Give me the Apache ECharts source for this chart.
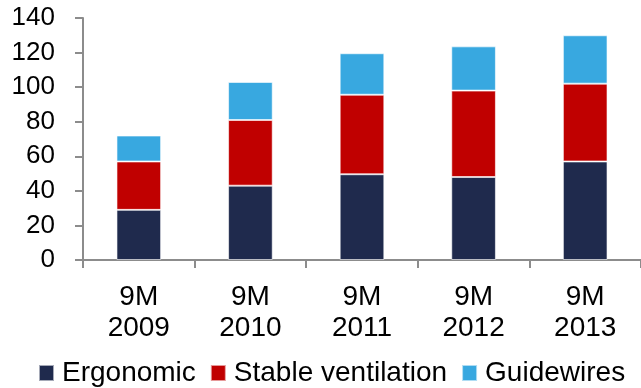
<!DOCTYPE html>
<html>
<head>
<meta charset="utf-8">
<script src="https://cdn.jsdelivr.net/npm/echarts@6/dist/echarts.min.js"></script>
<style>
  html, body { margin: 0; padding: 0; background: #fff; }
  #chart { width: 641px; height: 388px; }
</style>
</head>
<body>
<div id="chart"></div>
<script>
// Revenue split by segment, first nine months of each year
const categories = ['9M\n2009', '9M\n2010', '9M\n2011', '9M\n2012', '9M\n2013'];
const ergonomic = [29, 43, 49.6, 48, 57];
const stableVentilation = [28, 38, 46, 50, 45];
const guidewires = [15, 22, 24, 25.6, 28];
const yTicks = { min: 0, max: 140, interval: 20 };

const font = '"Liberation Sans", Arial, sans-serif';
const axisGray = '#8c8c8c';

const chart = echarts.init(document.getElementById('chart'), null, { renderer: 'canvas' });

function barSeries(name, data, color) {
  return {
    name: name,
    type: 'bar',
    stack: 'total',
    data: data,
    barWidth: '40%',
    itemStyle: { color: color, borderColor: 'rgba(255,255,255,0.6)', borderWidth: 1 }
  };
}

chart.setOption({
  animation: false,
  grid: { left: 83, right: 0, top: 18, bottom: 128 },
  legend: {
    top: 354,
    left: 33,
    itemWidth: 15,
    itemHeight: 16,
    itemGap: 14,
    icon: 'rect',
    textStyle: { fontFamily: font, fontSize: 28, color: '#000', padding: [0, 0, 0, 3] },
    data: ['Ergonomic', 'Stable ventilation', 'Guidewires']
  },
  xAxis: {
    type: 'category',
    data: categories,
    axisLine: { lineStyle: { color: axisGray, width: 2 } },
    axisTick: { show: true, length: 8, lineStyle: { color: axisGray, width: 2 } },
    axisLabel: { fontFamily: font, fontSize: 28, color: '#000', lineHeight: 31, margin: 22 }
  },
  yAxis: {
    type: 'value',
    min: yTicks.min,
    max: yTicks.max,
    interval: yTicks.interval,
    splitLine: { show: false },
    axisLine: { show: true, lineStyle: { color: axisGray, width: 2 } },
    axisTick: { show: true, length: 8, lineStyle: { color: axisGray, width: 2 } },
    axisLabel: { fontFamily: font, fontSize: 26, color: '#000', margin: 28 }
  },
  series: [
    barSeries('Ergonomic', ergonomic, '#1f2a4d'),
    barSeries('Stable ventilation', stableVentilation, '#c00000'),
    barSeries('Guidewires', guidewires, '#38a8e0')
  ]
});
</script>
</body>
</html>
